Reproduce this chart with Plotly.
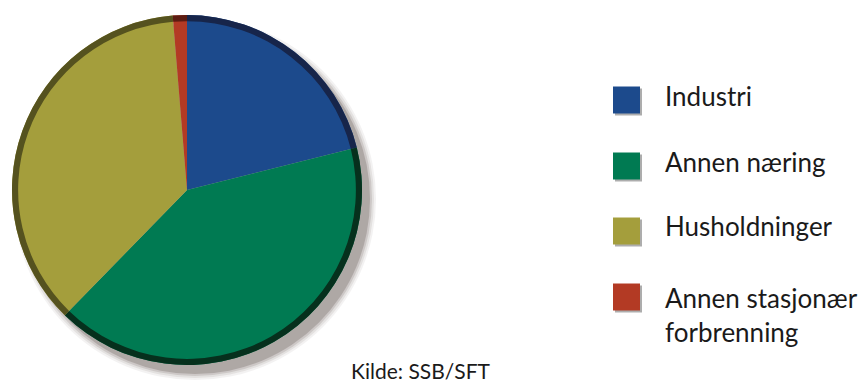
import plotly.graph_objects as go

# ---- data ----
labels = ["Industri", "Annen næring", "Husholdninger", "Annen stasjonær forbrenning"]
values = [21.1, 41.2, 36.4, 1.3]
legend_text = ["Industri", "Annen næring", "Husholdninger", "Annen stasjonær<br>forbrenning"]
source_text = "Kilde: SSB/SFT"

# ---- style ----
colors = ["#1c4a8c", "#007a52", "#a49e3c", "#b33a24"]
rim_colors = ["#17254a", "#06301d", "#55521f", "#5c1c12"]
W, H = 860, 382
cx, cy, r = 187, 190, 175  # pixel center / radius

def px(x):
    return x / W

def py(y):
    return 1 - y / H

dom_x = [px(cx - r), px(cx + r)]
dom_y = [py(cy + r), py(cy - r)]

fig = go.Figure()
# main pie
fig.add_trace(go.Pie(
    labels=labels, values=values, sort=False, direction="clockwise", rotation=0,
    marker=dict(colors=colors, line=dict(width=0)),
    textinfo="none", hoverinfo="label+percent", domain=dict(x=dom_x, y=dom_y),
    showlegend=False,
))
# dark rim
fig.add_trace(go.Pie(
    labels=labels, values=values, sort=False, direction="clockwise", rotation=0,
    hole=0.965,
    marker=dict(colors=rim_colors, line=dict(width=0)),
    textinfo="none", hoverinfo="skip", domain=dict(x=dom_x, y=dom_y),
    showlegend=False,
))

shapes = []
# soft shadow behind the pie
for grow, op in [(6, 0.10), (4, 0.15), (2, 0.25), (0, 0.45)]:
    ox, oy = 8, 9
    shapes.append(dict(
        type="circle", xref="paper", yref="paper", layer="below",
        x0=px(cx - r + ox - grow), x1=px(cx + r + ox + grow),
        y0=py(cy + r + oy + grow), y1=py(cy - r + oy - grow),
        fillcolor="#8a807c", opacity=op, line=dict(width=0),
    ))

annotations = []
row_y = [98, 164, 229, 295]
sq = 27
sq_x = 613
font_size = 26
for i, (t, c) in enumerate(zip(legend_text, colors)):
    yc = row_y[i]
    sqc = yc + 2
    shapes.append(dict(
        type="rect", xref="paper", yref="paper",
        x0=px(sq_x + 2), x1=px(sq_x + sq + 2), y0=py(sqc + sq / 2 + 2), y1=py(sqc - sq / 2 + 2),
        fillcolor="#6a6a6a", opacity=0.55, line=dict(width=0),
    ))
    shapes.append(dict(
        type="rect", xref="paper", yref="paper",
        x0=px(sq_x), x1=px(sq_x + sq), y0=py(sqc + sq / 2), y1=py(sqc - sq / 2),
        fillcolor=c, line=dict(width=0),
    ))
    multi = "<br>" in t
    annotations.append(dict(
        text=t, xref="paper", yref="paper", x=px(663),
        y=py(yc - 15 if multi else yc - 2.5),
        xanchor="left", yanchor="top" if multi else "middle", align="left",
        showarrow=False, font=dict(family="Lato", size=font_size, color="#1a1a1a"),
    ))

annotations.append(dict(
    text=source_text, xref="paper", yref="paper", x=px(349), y=py(356),
    xanchor="left", yanchor="top", showarrow=False,
    font=dict(family="Lato", size=21, color="#1a1a1a"),
))

fig.update_layout(
    width=W, height=H, margin=dict(l=0, r=0, t=0, b=0),
    paper_bgcolor="white", plot_bgcolor="white",
    shapes=shapes, annotations=annotations, showlegend=False,
)

fig.write_html("out.html")
